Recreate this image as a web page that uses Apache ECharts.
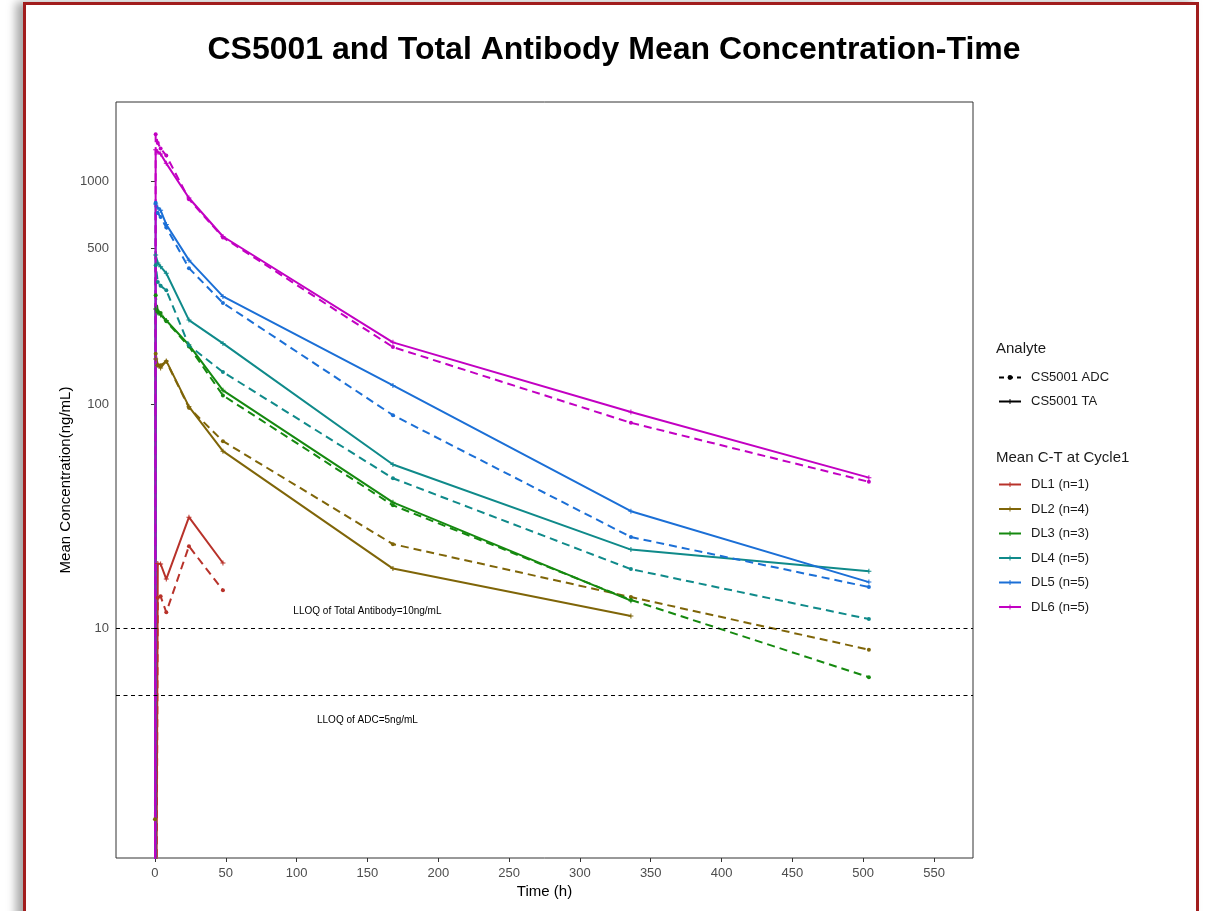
<!DOCTYPE html>
<html>
<head>
<meta charset="utf-8" />
<title>CS5001 and Total Antibody Mean Concentration-Time</title>
<style>
  html, body { margin: 0; padding: 0; background: #fff; }
  #chart { position: absolute; left: 0; top: 0; width: 1207px; height: 911px; }
  .frame {
    position: absolute; left: 23px; top: 2px; width: 1170px; height: 1000px;
    border: 3px solid #a11d1d; border-bottom: none;
    box-shadow: -7px 0 9px rgba(0,0,0,0.35);
    pointer-events: none;
  }
</style>
</head>
<body>
<div id="chart"></div>
<div class="frame"></div>
<script src="https://cdn.jsdelivr.net/npm/echarts@6/dist/echarts.min.js"></script>
<script>
// sampling times (h)
var TIMES = [0, 0.5, 2, 4, 8, 24, 48, 168, 336, 504];
var DOSE_LEVELS = ['DL1 (n=1)', 'DL2 (n=4)', 'DL3 (n=3)', 'DL4 (n=5)', 'DL5 (n=5)', 'DL6 (n=5)'];
var ANALYTES = ['CS5001 ADC', 'CS5001 TA'];

// mean conc (ng/mL), 0 = BLQ / pre-dose, null = not sampled
var TA_DL1 = [0, null, 19.5, 19.4, 16.6, 31.4, 19.6, null, null, null];
var TA_DL2 = [0, 160, 150, 146, 157, 98, 62, 18.5, 11.35, null];
var TA_DL3 = [0, 268, 258, 252, 238, 185, 116, 36.6, 13.3, null];
var TA_DL4 = [0, 467, 430, 414, 387, 239, 188, 54, 22.5, 18.0];
var TA_DL5 = [0, 790, 760, 740, 640, 443, 305, 122, 33.4, 16.1];
var TA_DL6 = [0, 1380, 1350, 1320, 1200, 840, 565, 190, 92.8, 47.2];

var ADC_DL1 = [0, null, 13.7, 13.9, 11.8, 23.3, 14.8, null, null, null];
var ADC_DL2 = [1.4, 169, 150, 150, 156, 97, 68.7, 23.8, 13.8, 8.03];
var ADC_DL3 = [0, 309, 262, 257, 236, 182, 110, 35.5, 13.4, 6.05];
var ADC_DL4 = [0, 420, 354, 340, 325, 184, 140, 46.9, 18.4, 11.0];
var ADC_DL5 = [0, 800, 720, 690, 620, 408, 285, 89.8, 25.6, 15.3];
var ADC_DL6 = [0, 1620, 1480, 1400, 1300, 830, 560, 181, 83, 45.2];

var LLOQ_TA = 10;
var LLOQ_ADC = 5;
var X_TICKS = [0, 50, 100, 150, 200, 250, 300, 350, 400, 450, 500, 550];
var Y_TICKS = [10, 100, 500, 1000];

var TA_DATA = [TA_DL1, TA_DL2, TA_DL3, TA_DL4, TA_DL5, TA_DL6];
var ADC_DATA = [ADC_DL1, ADC_DL2, ADC_DL3, ADC_DL4, ADC_DL5, ADC_DL6];

var COLORS = ['#b8322a', '#7f6508', '#15890f', '#0f8a8a', '#1b6fd6', '#c200c2'];
var FONT = "'Liberation Sans', Arial, sans-serif";
var PLUS = 'path://M4,0h2v4h4v2h-4v4h-2v-4h-4v-2h4z';
var BLQ = 0.01; // below the axis floor, clipped like -Inf in the source plot

function toPoints(values) {
  var pts = [];
  for (var i = 0; i < TIMES.length; i++) {
    if (values[i] == null) continue;
    pts.push([TIMES[i], values[i] > 0 ? values[i] : BLQ]);
  }
  return pts;
}

var series = [];
// per dose level: TA first (legend key is solid), then ADC; DL6 ends up on top
for (var i = 0; i < DOSE_LEVELS.length; i++) {
  series.push({
    name: DOSE_LEVELS[i], type: 'line', data: toPoints(TA_DATA[i]),
    color: COLORS[i], symbol: PLUS, symbolSize: 5, clip: true,
    lineStyle: { width: 2, type: 'solid' }, emphasis: { disabled: true }, z: 3
  });
  series.push({
    name: DOSE_LEVELS[i], type: 'line', data: toPoints(ADC_DATA[i]),
    color: COLORS[i], symbol: 'circle', symbolSize: 4, clip: true,
    lineStyle: { width: 2, type: [8, 5] }, emphasis: { disabled: true }, z: 3
  });
}
// analyte keys
series.push({
  name: ANALYTES[0], type: 'line', data: [], color: '#000', symbol: 'circle', symbolSize: 4,
  lineStyle: { width: 2, type: [5, 4] }
});
series.push({
  name: ANALYTES[1], type: 'line', data: [], color: '#000', symbol: PLUS, symbolSize: 5,
  lineStyle: { width: 2, type: 'solid' }
});
// LLOQ reference lines
series.push({
  name: 'LLOQ', type: 'line', data: [], silent: true,
  markLine: {
    symbol: 'none', silent: true, animation: false,
    lineStyle: { color: '#000', width: 1, type: [4, 3.5] },
    label: { show: false },
    data: [{ yAxis: LLOQ_TA }, { yAxis: LLOQ_ADC }]
  },
  markPoint: {
    symbol: 'circle', symbolSize: 0, silent: true, animation: false,
    label: { show: true, position: 'inside', color: '#000', fontSize: 10, fontFamily: FONT,
      formatter: function (p) { return p.name; } },
    data: [
      { name: 'LLOQ of Total Antibody=10ng/mL', coord: [150, 11.9] },
      { name: 'LLOQ of ADC=5ng/mL', coord: [150, 3.9] }
    ]
  }
});

var chart = echarts.init(document.getElementById('chart'));
chart.setOption({
  backgroundColor: '#fff',
  animation: false,
  textStyle: { fontFamily: FONT },
  title: [
    { text: 'CS5001 and Total Antibody Mean Concentration-Time', left: 609, top: 29, textAlign: 'center',
      textStyle: { fontSize: 32, fontWeight: 'bold', color: '#000', fontFamily: FONT } },
    { text: 'Analyte', left: 991, top: 336,
      textStyle: { fontSize: 15, fontWeight: 'normal', color: '#1a1a1a', fontFamily: FONT } },
    { text: 'Mean C-T at Cycle1', left: 991, top: 445,
      textStyle: { fontSize: 15, fontWeight: 'normal', color: '#1a1a1a', fontFamily: FONT } }
  ],
  legend: [
    { data: ANALYTES, orient: 'vertical', left: 998, top: 371, padding: 0, itemWidth: 22, itemHeight: 6, itemGap: 11,
      textStyle: { fontSize: 13, color: '#1a1a1a', padding: [0, 0, 0, 5] }, selectedMode: false },
    { data: DOSE_LEVELS, orient: 'vertical', left: 998, top: 478, padding: 0, itemWidth: 22, itemHeight: 6, itemGap: 11.5,
      textStyle: { fontSize: 13, color: '#1a1a1a', padding: [0, 0, 0, 5] }, selectedMode: false }
  ],
  grid: { left: 116, top: 102, right: 234, bottom: 53, show: true, borderColor: '#333', borderWidth: 1, containLabel: false },
  xAxis: {
    type: 'value', min: -27.5, max: 577.5,
    name: 'Time (h)', nameLocation: 'middle', nameGap: 26, nameMoveOverlap: false,
    nameTextStyle: { fontSize: 15, color: '#000' },
    axisLine: { show: false },
    axisTick: { show: true, length: 4, lineStyle: { color: '#333' }, customValues: X_TICKS },
    axisLabel: { fontSize: 13, color: '#4d4d4d', margin: 9, customValues: X_TICKS },
    splitLine: { show: false }
  },
  yAxis: {
    type: 'log', logBase: 10, min: 0.94, max: 2257,
    name: 'Mean Concentration(ng/mL)', nameLocation: 'middle', nameGap: 43, nameMoveOverlap: false,
    nameTextStyle: { fontSize: 15, color: '#000' },
    axisLine: { show: false },
    axisTick: { show: true, length: 4, lineStyle: { color: '#333' }, customValues: Y_TICKS },
    axisLabel: { fontSize: 13, color: '#4d4d4d', margin: 7, customValues: Y_TICKS,
      formatter: function (v) { return String(Math.round(v)); } },
    splitLine: { show: false }
  },
  series: series
});
</script>
</body>
</html>
